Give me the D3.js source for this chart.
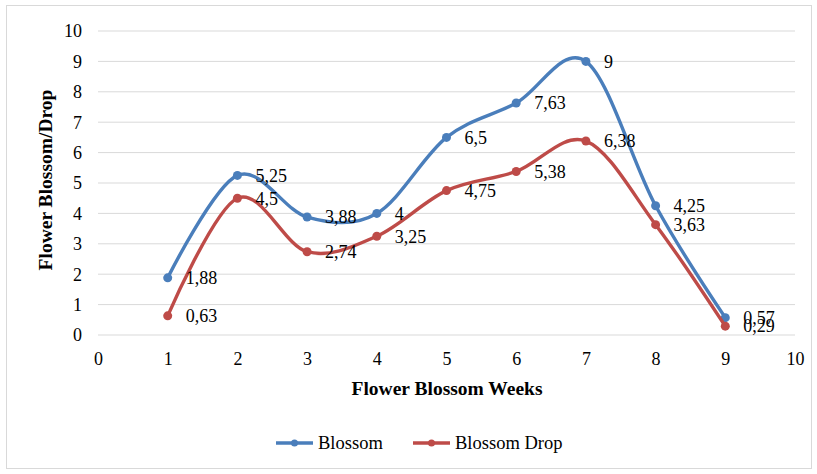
<!DOCTYPE html>
<html><head><meta charset="utf-8">
<script src="https://cdn.jsdelivr.net/npm/d3@7"></script>
<style>body{margin:0;background:#fff}svg{display:block}</style>
</head><body>
<script>
const weeks = [1,2,3,4,5,6,7,8,9];
const blossom = [1.88,5.25,3.88,4,6.5,7.63,9,4.25,0.57];
const blossomDrop = [0.63,4.5,2.74,3.25,4.75,5.38,6.38,3.63,0.29];
const blossomLabels = ["1,88","5,25","3,88","4","6,5","7,63","9","4,25","0,57"];
const dropLabels = ["0,63","4,5","2,74","3,25","4,75","5,38","6,38","3,63","0,29"];
const xTicks = [0,1,2,3,4,5,6,7,8,9,10];
const yTicks = [0,1,2,3,4,5,6,7,8,9,10];
const seriesNames = ["Blossom","Blossom Drop"];
const colors = ["#4A7EBB","#BE4B48"];
const FONT = "Liberation Serif";

const W=817,H=474;
const svg=d3.select("body").append("svg").attr("width",W).attr("height",H);
svg.append("rect").attr("x",6.5).attr("y",5.5).attr("width",805).attr("height",463).attr("fill","#fff").attr("stroke","#d9d9d9");

const x=d3.scaleLinear().domain([0,10]).range([98,795]);
const y=d3.scaleLinear().domain([0,10]).range([335,31]);

svg.selectAll(".grid").data(yTicks).join("line").attr("x1",x(0)).attr("x2",x(10))
 .attr("y1",d=>y(d)).attr("y2",d=>y(d)).attr("stroke","#d9d9d9").attr("stroke-width",1);

const ya=svg.append("g").attr("transform",`translate(${x(0)},0)`).call(d3.axisLeft(y).tickValues(yTicks).tickSize(0).tickPadding(16));
ya.select(".domain").remove();
const xa=svg.append("g").attr("transform",`translate(0,${y(0)})`).call(d3.axisBottom(x).tickValues(xTicks).tickSize(0).tickPadding(17));
xa.select(".domain").remove();
[ya,xa].forEach(a=>a.attr("font-family",FONT).attr("font-size",18));
ya.selectAll("text").attr("dy","0.33em").attr("fill","#000");
xa.selectAll("text").attr("dy","0.71em").attr("fill","#000");

svg.append("text").attr("x",447).attr("y",395).attr("text-anchor","middle").attr("font-weight","bold")
  .attr("font-family",FONT).attr("font-size",19.5).text("Flower Blossom Weeks");
svg.append("text").attr("transform","translate(52,180) rotate(-90)").attr("text-anchor","middle").attr("font-weight","bold")
  .attr("font-family",FONT).attr("font-size",19.5).text("Flower Blossom/Drop");

const line=d3.line().x(d=>x(d[0])).y(d=>y(d[1])).curve(d3.curveCardinal.tension(0));
const series=[[blossom,blossomLabels],[blossomDrop,dropLabels]];
series.forEach(([vals,labs],i)=>{
  const pts=weeks.map((w,j)=>[w,vals[j]]);
  svg.append("path").attr("d",line(pts)).attr("fill","none").attr("stroke",colors[i]).attr("stroke-width",3.4).attr("stroke-linejoin","round");
  svg.selectAll(null).data(pts).join("circle").attr("cx",d=>x(d[0])).attr("cy",d=>y(d[1])).attr("r",4.5).attr("fill",colors[i]);
});
series.forEach(([vals,labs],i)=>{
  svg.selectAll(null).data(weeks).join("text").attr("x",d=>x(d)+18).attr("y",(d,j)=>y(vals[j])).attr("dy","0.35em")
   .attr("font-family",FONT).attr("font-size",18).attr("fill","#000").text((d,j)=>labs[j]);
});

const leg=[[276,318],[413,455]];
seriesNames.forEach((n,i)=>{
  const [lx,tx]=leg[i];
  svg.append("line").attr("x1",lx).attr("x2",lx+37).attr("y1",443).attr("y2",443).attr("stroke",colors[i]).attr("stroke-width",3.4);
  svg.append("circle").attr("cx",lx+18.5).attr("cy",443).attr("r",3.5).attr("fill",colors[i]);
  svg.append("text").attr("x",tx).attr("y",443).attr("dy","0.33em").attr("font-family",FONT).attr("font-size",18.5).attr("fill","#000").text(n);
});
</script>
</body></html>
